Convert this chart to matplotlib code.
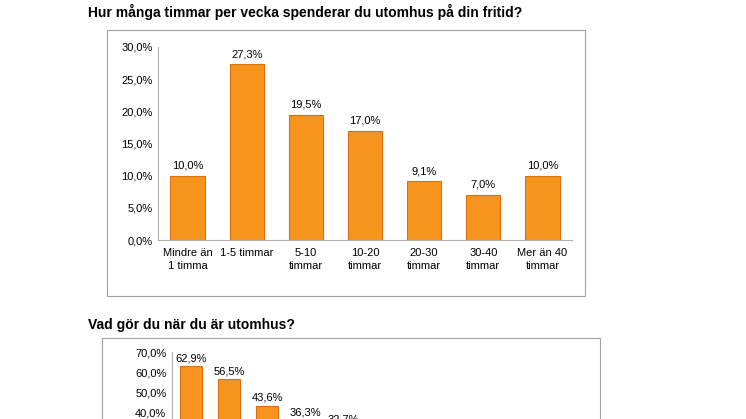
import matplotlib.pyplot as plt
from matplotlib.patches import Rectangle

W, H = 746, 419

cats1 = ["Mindre än\n1 timma", "1-5 timmar", "5-10\ntimmar", "10-20\ntimmar",
         "20-30\ntimmar", "30-40\ntimmar", "Mer än 40\ntimmar"]
vals1 = [10.0, 27.3, 19.5, 17.0, 9.1, 7.0, 10.0]
vals2 = [62.9, 56.5, 43.6, 36.3, 32.7, 29.8]
yticks1 = [0, 5, 10, 15, 20, 25, 30]
yticks2 = [0, 10, 20, 30, 40, 50, 60, 70]

ORANGE = "#F7941D"
EDGE = "#D9700B"
FONT = "Liberation Sans"
plt.rcParams["font.family"] = FONT


def fx(px):
    return px / W


def fy(py):
    return 1 - py / H


def pct(v):
    return f"{v:.1f}%".replace(".", ",")


fig = plt.figure(figsize=(W / 100, H / 100), dpi=100)

# outer boxes
fig.patches.append(Rectangle((fx(107), fy(296)), fx(585) - fx(107), fy(30) - fy(296),
                             transform=fig.transFigure, fill=False, ec="#a0a0a0", lw=0.8))
fig.patches.append(Rectangle((fx(102), fy(500)), fx(600) - fx(102), fy(338) - fy(500),
                             transform=fig.transFigure, fill=False, ec="#a0a0a0", lw=0.8))

fig.text(fx(88), fy(12), "Hur många timmar per vecka spenderar du utomhus på din fritid?",
         fontsize=10, fontweight="bold", va="center")
fig.text(fx(88), fy(325), "Vad gör du när du är utomhus?",
         fontsize=10, fontweight="bold", va="center")


def style(ax, ticks, top):
    ax.set_ylim(0, top)
    ax.set_yticks(ticks)
    ax.set_yticklabels([pct(t) for t in ticks], fontsize=8)
    for s in ["top", "right"]:
        ax.spines[s].set_visible(False)
    ax.spines["left"].set_color("#b0b0b0")
    ax.spines["bottom"].set_color("#b0b0b0")
    ax.tick_params(axis="y", length=0, pad=4)
    ax.patch.set_alpha(0)


# top chart
ax1 = fig.add_axes([fx(158), fy(240), fx(572) - fx(158), fy(47) - fy(240)])
x1 = list(range(len(vals1)))
ax1.bar(x1, vals1, width=0.58, color=ORANGE, edgecolor=EDGE, lw=0.8)
for x, v in zip(x1, vals1):
    ax1.text(x, v + 0.8, pct(v), ha="center", va="bottom", fontsize=8)
style(ax1, yticks1, 30)
ax1.set_xlim(-0.5, len(vals1) - 0.5)
ax1.set_xticks(x1)
ax1.set_xticklabels(cats1, fontsize=8, linespacing=1.3)
ax1.tick_params(axis="x", length=0, pad=6)

# bottom chart (cut off by page)
ax2 = fig.add_axes([fx(172), fy(494), fx(590) - fx(172), fy(352) - fy(494)])
x2 = list(range(len(vals2)))
ax2.bar(x2, vals2, width=0.58, color=ORANGE, edgecolor=EDGE, lw=0.8)
for x, v in zip(x2, vals2):
    ax2.text(x, v + 1.5, pct(v), ha="center", va="bottom", fontsize=8)
style(ax2, yticks2, 70)
ax2.set_xlim(-0.5, 10.5)
ax2.set_xticks([])

fig.savefig("out.png", dpi=100)
